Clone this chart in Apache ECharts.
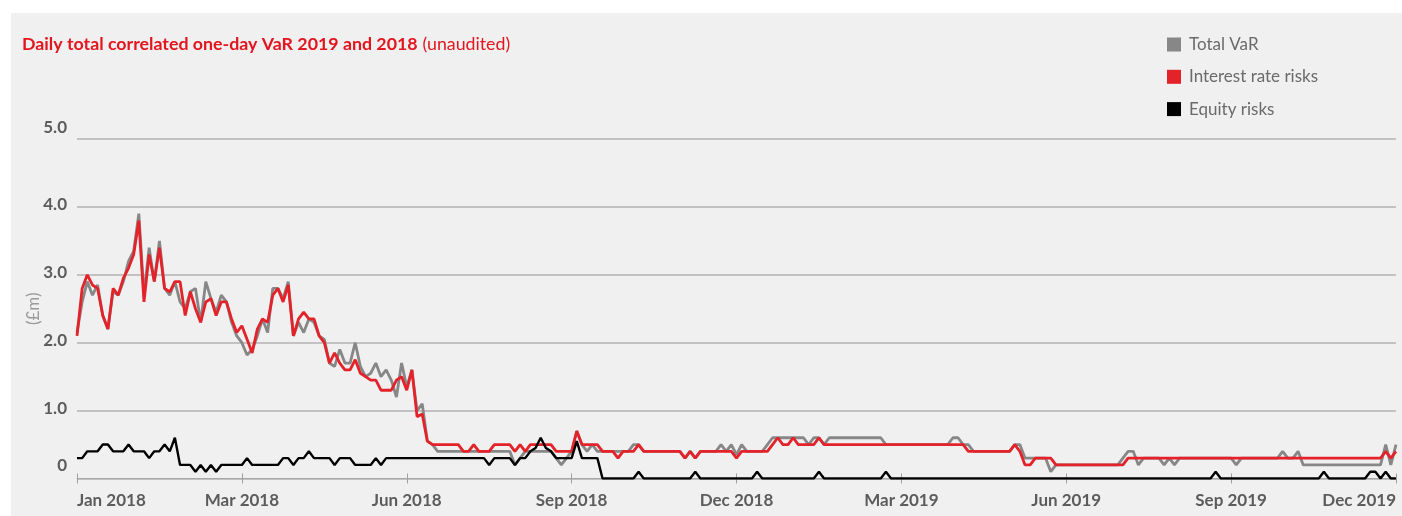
<!DOCTYPE html>
<html>
<head>
<meta charset="utf-8">
<script src="https://cdn.jsdelivr.net/npm/echarts@6/dist/echarts.min.js"></script>
<style>
html,body{margin:0;padding:0;background:#ffffff;}
#chart{width:1402px;height:516px;}
</style>
</head>
<body>
<div id="chart"></div>
<script>
// Tick labels shown under the x axis (every 32nd period)
const tickLabels = ['Jan 2018','Mar 2018','Jun 2018','Sep 2018','Dec 2018','Mar 2019','Jun 2019','Sep 2019','Dec 2019'];
const periodsPerLabel = 32;

// Total VaR (£m)
const totalVaR = [
  2.15,2.6,2.9,2.7,2.85,2.4,2.2,2.75,2.7,2.9,
  3.2,3.35,3.9,2.7,3.4,2.9,3.5,2.8,2.7,2.9,
  2.6,2.5,2.75,2.8,2.3,2.9,2.65,2.45,2.7,2.6,
  2.3,2.1,2.0,1.82,1.9,2.1,2.35,2.15,2.8,2.8,
  2.65,2.9,2.1,2.3,2.15,2.35,2.3,2.1,2.05,1.7,
  1.65,1.9,1.7,1.7,2.0,1.65,1.5,1.55,1.7,1.5,
  1.6,1.45,1.2,1.7,1.35,1.6,1.0,1.1,0.55,0.5,
  0.4,0.4,0.4,0.4,0.4,0.4,0.4,0.4,0.4,0.4,
  0.4,0.4,0.4,0.4,0.4,0.2,0.3,0.4,0.4,0.4,
  0.4,0.4,0.4,0.3,0.2,0.3,0.4,0.7,0.5,0.4,
  0.5,0.4,0.4,0.4,0.4,0.4,0.4,0.4,0.5,0.5,
  0.4,0.4,0.4,0.4,0.4,0.4,0.4,0.4,0.3,0.4,
  0.3,0.4,0.4,0.4,0.4,0.5,0.4,0.5,0.35,0.5,
  0.4,0.4,0.4,0.4,0.5,0.6,0.6,0.6,0.6,0.6,
  0.6,0.6,0.5,0.6,0.6,0.5,0.6,0.6,0.6,0.6,
  0.6,0.6,0.6,0.6,0.6,0.6,0.6,0.5,0.5,0.5,
  0.5,0.5,0.5,0.5,0.5,0.5,0.5,0.5,0.5,0.5,
  0.6,0.6,0.5,0.5,0.4,0.4,0.4,0.4,0.4,0.4,
  0.4,0.4,0.5,0.5,0.3,0.3,0.3,0.3,0.3,0.1,
  0.2,0.2,0.2,0.2,0.2,0.2,0.2,0.2,0.2,0.2,
  0.2,0.2,0.2,0.3,0.4,0.4,0.2,0.3,0.3,0.3,
  0.3,0.2,0.3,0.2,0.3,0.3,0.3,0.3,0.3,0.3,
  0.3,0.3,0.3,0.3,0.3,0.2,0.3,0.3,0.3,0.3,
  0.3,0.3,0.3,0.3,0.4,0.3,0.3,0.4,0.2,0.2,
  0.2,0.2,0.2,0.2,0.2,0.2,0.2,0.2,0.2,0.2,
  0.2,0.2,0.2,0.2,0.5,0.2,0.5
];

// Interest rate risks (£m)
const interestRate = [
  2.1,2.8,3.0,2.85,2.8,2.4,2.2,2.8,2.7,2.95,
  3.1,3.3,3.8,2.6,3.3,2.9,3.4,2.8,2.75,2.9,
  2.9,2.4,2.75,2.5,2.3,2.6,2.65,2.4,2.6,2.6,
  2.35,2.15,2.25,2.05,1.85,2.2,2.35,2.3,2.7,2.8,
  2.6,2.85,2.1,2.35,2.45,2.35,2.35,2.1,2.0,1.7,
  1.85,1.7,1.6,1.6,1.75,1.55,1.5,1.45,1.45,1.3,
  1.3,1.3,1.45,1.5,1.3,1.6,0.91,0.95,0.55,0.5,
  0.5,0.5,0.5,0.5,0.5,0.4,0.4,0.5,0.4,0.4,
  0.4,0.5,0.5,0.5,0.5,0.4,0.5,0.4,0.5,0.5,
  0.5,0.5,0.5,0.4,0.4,0.4,0.4,0.7,0.5,0.5,
  0.5,0.5,0.4,0.4,0.4,0.3,0.4,0.4,0.4,0.5,
  0.4,0.4,0.4,0.4,0.4,0.4,0.4,0.4,0.3,0.4,
  0.3,0.4,0.4,0.4,0.4,0.4,0.4,0.4,0.3,0.4,
  0.4,0.4,0.4,0.4,0.4,0.5,0.6,0.5,0.5,0.6,
  0.5,0.5,0.5,0.5,0.6,0.5,0.5,0.5,0.5,0.5,
  0.5,0.5,0.5,0.5,0.5,0.5,0.5,0.5,0.5,0.5,
  0.5,0.5,0.5,0.5,0.5,0.5,0.5,0.5,0.5,0.5,
  0.5,0.5,0.5,0.4,0.4,0.4,0.4,0.4,0.4,0.4,
  0.4,0.4,0.5,0.4,0.2,0.2,0.3,0.3,0.3,0.3,
  0.2,0.2,0.2,0.2,0.2,0.2,0.2,0.2,0.2,0.2,
  0.2,0.2,0.2,0.2,0.3,0.3,0.3,0.3,0.3,0.3,
  0.3,0.3,0.3,0.3,0.3,0.3,0.3,0.3,0.3,0.3,
  0.3,0.3,0.3,0.3,0.3,0.3,0.3,0.3,0.3,0.3,
  0.3,0.3,0.3,0.3,0.3,0.3,0.3,0.3,0.3,0.3,
  0.3,0.3,0.3,0.3,0.3,0.3,0.3,0.3,0.3,0.3,
  0.3,0.3,0.3,0.3,0.4,0.3,0.4
];

// Equity risks (£m)
const equity = [
  0.3,0.3,0.4,0.4,0.4,0.5,0.5,0.4,0.4,0.4,
  0.5,0.4,0.4,0.4,0.3,0.4,0.4,0.5,0.4,0.6,
  0.2,0.2,0.2,0.1,0.2,0.1,0.2,0.1,0.2,0.2,
  0.2,0.2,0.2,0.3,0.2,0.2,0.2,0.2,0.2,0.2,
  0.3,0.3,0.2,0.3,0.3,0.4,0.3,0.3,0.3,0.3,
  0.2,0.3,0.3,0.3,0.2,0.2,0.2,0.2,0.3,0.2,
  0.3,0.3,0.3,0.3,0.3,0.3,0.3,0.3,0.3,0.3,
  0.3,0.3,0.3,0.3,0.3,0.3,0.3,0.3,0.3,0.3,
  0.2,0.3,0.3,0.3,0.3,0.2,0.3,0.3,0.4,0.45,
  0.6,0.45,0.4,0.3,0.3,0.3,0.3,0.55,0.3,0.3,
  0.3,0.3,0,0,0,0,0,0,0,0.1,
  0,0,0,0,0,0,0,0,0,0,
  0.1,0,0,0,0,0,0,0,0,0,
  0,0,0.1,0,0,0,0,0,0,0,
  0,0,0,0,0.1,0,0,0,0,0,
  0,0,0,0,0,0,0,0.1,0,0,
  0,0,0,0,0,0,0,0,0,0,
  0,0,0,0,0,0,0,0,0,0,
  0,0,0,0,0,0,0,0,0,0,
  0,0,0,0,0,0,0,0,0,0,
  0,0,0,0,0,0,0,0,0,0,
  0,0,0,0,0,0,0,0,0,0,
  0,0.1,0,0,0,0,0,0,0,0,
  0,0,0,0,0,0,0,0,0,0,
  0,0,0.1,0,0,0,0,0,0,0,
  0,0.1,0.1,0,0.1,0,0
];

const seriesNames = ['Total VaR', 'Interest rate risks', 'Equity risks'];
const seriesColors = ['#878787', '#e42229', '#000000'];

const categories = totalVaR.map((_, i) =>
  i % periodsPerLabel === 0 ? tickLabels[i / periodsPerLabel] : String(i));

const FONT = 'Lato';
const labelBase = { fontFamily: FONT, fontSize: 17, fontWeight: 'bold', color: '#5c5c5c' };

const chart = echarts.init(document.getElementById('chart'), null, { renderer: 'canvas' });
chart.setOption({
  backgroundColor: '#ffffff',
  animation: false,
  graphic: [{
    type: 'rect', silent: true, z: -10,
    shape: { x: 11, y: 13, width: 1391, height: 503 },
    style: { fill: '#f0f0f0' }
  }],
  title: {
    left: 17, top: 30,
    text: '{b|Daily total correlated one-day VaR 2019 and 2018} {n|(unaudited)}',
    textStyle: {
      rich: {
        b: { fontFamily: FONT, fontSize: 17.8, fontWeight: 'bold', color: '#e3151f' },
        n: { fontFamily: FONT, fontSize: 17.8, fontWeight: 'normal', color: '#e3151f' }
      }
    }
  },
  legend: {
    orient: 'vertical', left: 1162, top: 31,
    itemWidth: 14, itemHeight: 14, itemGap: 15.3, icon: 'rect',
    data: seriesNames,
    textStyle: { fontFamily: FONT, fontSize: 17, color: '#6a6a6a', lineHeight: 16, padding: [0, 0, 0, 3] }
  },
  grid: { left: 77, right: 6, top: 139, bottom: 37.5 },
  xAxis: [{
    type: 'category', data: categories, boundaryGap: false, position: 'bottom',
    axisLine: { lineStyle: { color: '#a8a8a8', width: 1 } },
    axisTick: { interval: periodsPerLabel - 1, length: 5, lineStyle: { color: '#a0a0a0' } },
    axisLabel: Object.assign({
      interval: periodsPerLabel - 1, margin: 14,
      alignMinLabel: 'left', alignMaxLabel: 'right'
    }, labelBase),
    splitLine: { show: false }
  }, {
    type: 'category', data: categories, boundaryGap: false, position: 'bottom', offset: 0,
    axisLine: { show: false },
    axisTick: { interval: periodsPerLabel - 1, inside: true, length: 5, lineStyle: { color: '#a0a0a0' } },
    axisLabel: { show: false },
    splitLine: { show: false }
  }],
  yAxis: {
    type: 'value', min: 0, max: 5, interval: 1,
    name: '(£m)', nameLocation: 'middle', nameGap: 35, nameMoveOverlap: false,
    nameTextStyle: { fontFamily: FONT, fontSize: 17, color: '#9a9a9a' },
    axisLine: { show: false }, axisTick: { show: false },
    axisLabel: Object.assign({
      margin: 10,
      formatter: v => v === 0 ? '{z|0}' : (v === 5 ? '{t|5.0}' : '{n|' + v.toFixed(1) + '}'),
      rich: {
        n: Object.assign({ padding: [0, 0, 5, 0] }, labelBase),
        t: Object.assign({ padding: [0, 0, 22, 0] }, labelBase),
        z: Object.assign({ padding: [0, 0, 26, 0] }, labelBase)
      }
    }, labelBase),
    splitLine: { lineStyle: { color: '#b3b3b3', width: 1.5 } }
  },
  series: [
    { name: seriesNames[0], type: 'line', data: totalVaR, symbol: 'none', color: seriesColors[0],
      lineStyle: { width: 2.8, color: seriesColors[0] } },
    { name: seriesNames[1], type: 'line', data: interestRate, symbol: 'none', color: seriesColors[1],
      lineStyle: { width: 2.8, color: seriesColors[1] } },
    { name: seriesNames[2], type: 'line', data: equity, symbol: 'none', color: seriesColors[2],
      lineStyle: { width: 2.4, color: seriesColors[2] } }
  ]
});
</script>
</body>
</html>
